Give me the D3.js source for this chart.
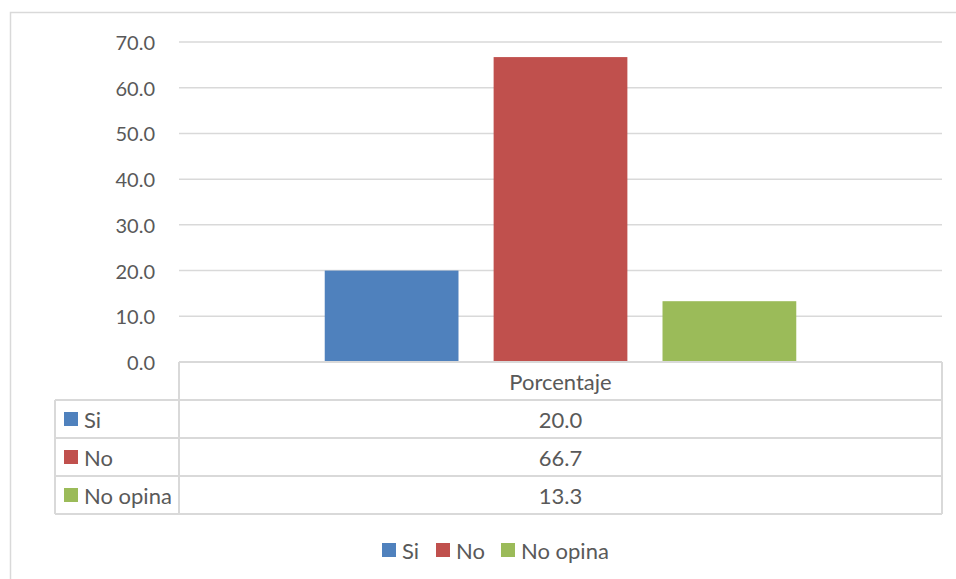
<!DOCTYPE html>
<html lang="es">
<head>
  <meta charset="UTF-8">
  <title>Porcentaje</title>
  <script src="https://d3js.org/d3.v7.min.js"></script>
  <style>
    body { margin: 0; background: #fff; }
    svg { font-family: Lato, "Open Sans", sans-serif; }
    .txt { fill: #595959; font-size: 20px; }
    .big { font-size: 22px; }
    .grid line { stroke: #d9d9d9; stroke-width: 1.5; }
    .tbl { stroke: #d9d9d9; stroke-width: 2; fill: none; }
  </style>
</head>
<body>
<svg width="956" height="579"></svg>
<script>
const categories = ["Porcentaje"];
const series = ["Si", "No", "No opina"];
const values = [20.0, 66.7, 13.3];
const colors = ["#4f81bd", "#c0504d", "#9bbb59"];
const ticks = [0, 10, 20, 30, 40, 50, 60, 70];

const svg = d3.select("svg");

// chart frame
svg.append("rect")
  .attr("x", 10.5).attr("y", 12.5)
  .attr("width", 960).attr("height", 600)
  .attr("fill", "none").attr("stroke", "#d9d9d9").attr("stroke-width", 1.5);

const plotL = 179, plotR = 942, plotT = 42, base = 362;

const y = d3.scaleLinear().domain([0, 70]).range([base, plotT]);
const x0 = d3.scaleBand().domain(categories).range([plotL, plotR])
  .paddingInner(0.382).paddingOuter(0.191);
const x1 = d3.scaleBand().domain(series).range([0, x0.bandwidth()])
  .paddingInner(0.208);

// gridlines
const grid = svg.append("g").attr("class", "grid");
grid.selectAll("line").data(ticks).enter().append("line")
  .attr("x1", plotL).attr("x2", plotR)
  .attr("y1", d => y(d)).attr("y2", d => y(d));

// tick labels
svg.append("g").selectAll("text").data(ticks).enter().append("text")
  .attr("class", "txt")
  .attr("x", 155).attr("y", d => y(d))
  .attr("text-anchor", "end").attr("dominant-baseline", "central")
  .text(d => d.toFixed(1));

// bars
svg.append("g").selectAll("rect").data(series).enter().append("rect")
  .attr("x", d => x0(categories[0]) + x1(d))
  .attr("y", (d, i) => y(values[i]))
  .attr("width", x1.bandwidth())
  .attr("height", (d, i) => base - y(values[i]))
  .attr("fill", (d, i) => colors[i]);

// data table
const rowH = 38, tblLeft = 55;
const rows = series.map((s, i) => ({ s, v: values[i], c: colors[i], y0: base + rowH * (i + 1) }));
const tblBottom = base + rowH * (series.length + 1);

const tbl = svg.append("g");
tbl.append("line").attr("class", "tbl")
  .attr("x1", plotL).attr("x2", plotR).attr("y1", base).attr("y2", base);
tbl.append("line").attr("class", "tbl")
  .attr("x1", plotL).attr("x2", plotL).attr("y1", base).attr("y2", tblBottom);
tbl.append("line").attr("class", "tbl")
  .attr("x1", plotR).attr("x2", plotR).attr("y1", base).attr("y2", tblBottom);
tbl.append("line").attr("class", "tbl")
  .attr("x1", tblLeft).attr("x2", tblLeft).attr("y1", base + rowH).attr("y2", tblBottom);
tbl.selectAll(".hl").data(d3.range(1, series.length + 2)).enter().append("line")
  .attr("class", "tbl")
  .attr("x1", tblLeft).attr("x2", plotR)
  .attr("y1", k => base + rowH * k).attr("y2", k => base + rowH * k);

tbl.append("text").attr("class", "txt big")
  .attr("x", (plotL + plotR) / 2).attr("y", base + rowH / 2)
  .attr("text-anchor", "middle").attr("dominant-baseline", "central")
  .text(categories[0]);

const row = tbl.selectAll(".row").data(rows).enter().append("g");
row.append("rect")
  .attr("x", 64).attr("y", d => d.y0 + rowH / 2 - 7)
  .attr("width", 14).attr("height", 14)
  .attr("fill", d => d.c);
row.append("text").attr("class", "txt big")
  .attr("x", 84).attr("y", d => d.y0 + rowH / 2)
  .attr("dominant-baseline", "central")
  .text(d => d.s);
row.append("text").attr("class", "txt big")
  .attr("x", (plotL + plotR) / 2).attr("y", d => d.y0 + rowH / 2)
  .attr("text-anchor", "middle").attr("dominant-baseline", "central")
  .text(d => d.v.toFixed(1));

// legend
const legendX = [382, 436, 501];
const leg = svg.append("g").selectAll("g").data(series).enter().append("g")
  .attr("transform", (d, i) => `translate(${legendX[i]},550)`);
leg.append("rect").attr("x", 0).attr("y", -7).attr("width", 14).attr("height", 14)
  .attr("fill", (d, i) => colors[i]);
leg.append("text").attr("class", "txt big")
  .attr("x", 20).attr("y", 0).attr("dominant-baseline", "central")
  .text(d => d);
</script>
</body>
</html>
